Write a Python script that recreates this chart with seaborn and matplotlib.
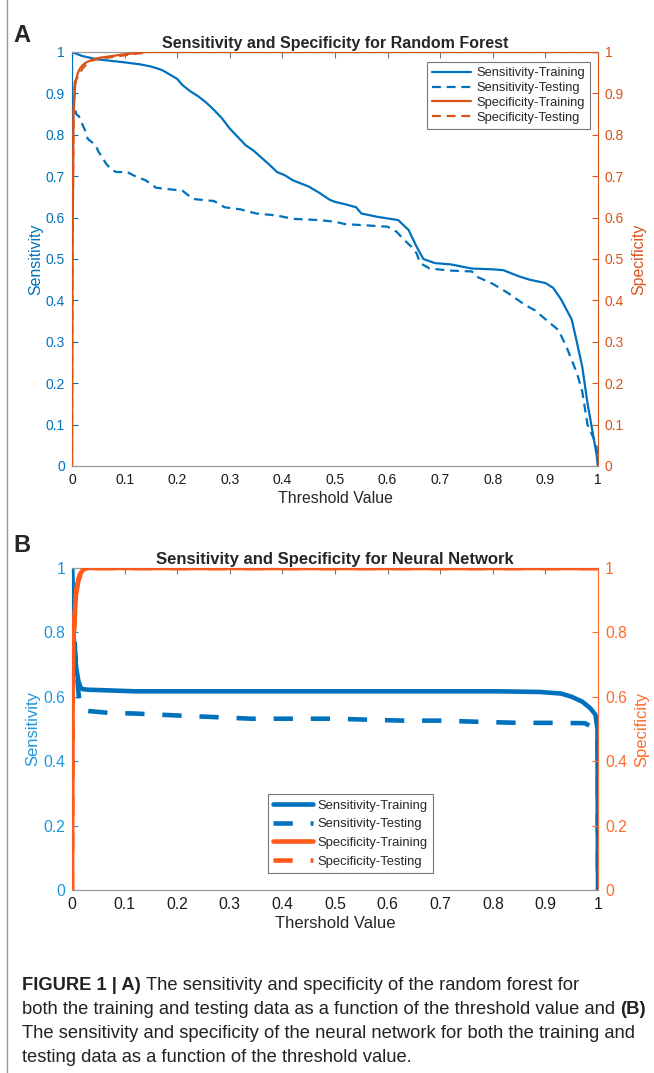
import numpy as np
import pandas as pd
import matplotlib
matplotlib.use('Agg')
import matplotlib.pyplot as plt
import seaborn as sns
from matplotlib.lines import Line2D

# ---- data ----
# Panel A : random forest
rf_sens_train_t = [0, 0.02, 0.05, 0.1, 0.13, 0.15, 0.17, 0.18, 0.2, 0.21, 0.225, 0.24, 0.255, 0.27, 0.285,
                   0.3, 0.315, 0.33, 0.345, 0.36, 0.375, 0.39, 0.405, 0.42, 0.45, 0.47, 0.49, 0.5, 0.52,
                   0.54, 0.55, 0.58, 0.6, 0.62, 0.64, 0.655, 0.668, 0.69, 0.72, 0.76, 0.8, 0.82, 0.85,
                   0.87, 0.9, 0.915, 0.93, 0.95, 0.96, 0.97, 0.98, 0.99, 0.997, 1.0]
rf_sens_train = [1.0, 0.99, 0.982, 0.975, 0.97, 0.965, 0.957, 0.95, 0.935, 0.92, 0.905, 0.893, 0.878,
                 0.86, 0.84, 0.815, 0.795, 0.775, 0.762, 0.745, 0.728, 0.71, 0.702, 0.69, 0.675, 0.66,
                 0.643, 0.638, 0.632, 0.625, 0.61, 0.602, 0.598, 0.594, 0.57, 0.53, 0.50, 0.49, 0.487,
                 0.477, 0.475, 0.473, 0.458, 0.45, 0.442, 0.43, 0.402, 0.354, 0.298, 0.24, 0.152,
                 0.08, 0.03, 0.0]

rf_sens_test_t = [0, 0, 0.003, 0.008, 0.013, 0.025, 0.03, 0.045, 0.05, 0.065, 0.075, 0.085, 0.105, 0.12,
                  0.14, 0.16, 0.21, 0.23, 0.27, 0.29, 0.32, 0.35, 0.39, 0.42, 0.47, 0.5, 0.52, 0.55, 0.6,
                  0.617, 0.63, 0.645, 0.655, 0.662, 0.68, 0.72, 0.76, 0.77, 0.8, 0.83, 0.86, 0.88, 0.91,
                  0.925, 0.94, 0.96, 0.97, 0.98, 0.99, 0.997, 1.0]
rf_sens_test = [1.0, 0.93, 0.88, 0.85, 0.845, 0.81, 0.79, 0.775, 0.76, 0.73, 0.715, 0.71, 0.71, 0.70,
                0.69, 0.672, 0.665, 0.645, 0.64, 0.625, 0.62, 0.61, 0.605, 0.597, 0.594, 0.59, 0.584,
                0.582, 0.578, 0.566, 0.548, 0.53, 0.514, 0.49, 0.477, 0.472, 0.47, 0.457, 0.44, 0.417,
                0.39, 0.376, 0.344, 0.328, 0.288, 0.224, 0.18, 0.1, 0.072, 0.05, 0.0]

rf_spec_train_t = [0, 0.001, 0.003, 0.006, 0.01, 0.014, 0.02, 0.027, 0.04, 0.052, 0.075, 0.096, 0.12, 0.14, 1.0]
rf_spec_train = [0, 0.5, 0.85, 0.92, 0.945, 0.958, 0.968, 0.975, 0.982, 0.986, 0.99, 0.994, 0.997, 1.0, 1.0]

rf_spec_test_t = [0, 0.001, 0.003, 0.006, 0.011, 0.02, 0.033, 0.05, 0.065, 0.09, 0.11, 0.13, 0.15, 1.0]
rf_spec_test = [0, 0.5, 0.86, 0.93, 0.94, 0.96, 0.978, 0.983, 0.986, 0.99, 0.994, 0.997, 1.0, 1.0]

# Panel B : neural network
nn_sens_train_t = [0, 0.002, 0.005, 0.008, 0.012, 0.016, 0.02, 0.03, 0.05, 0.12, 0.4, 0.81, 0.89, 0.93,
                   0.95, 0.97, 0.985, 0.995, 0.999, 1.0]
nn_sens_train = [1.0, 0.82, 0.74, 0.69, 0.65, 0.63, 0.624, 0.622, 0.621, 0.617, 0.617, 0.617, 0.615, 0.61,
                 0.60, 0.585, 0.565, 0.545, 0.50, 0.0]

nn_sens_test_t = [0, 0.003, 0.006, 0.01, 0.013, 0.016, 0.02, 0.03, 0.05, 0.07, 0.12, 0.2, 0.27, 0.34, 0.5,
                  0.56, 0.63, 0.7, 0.78, 0.85, 0.92, 0.975, 0.99, 0.997, 0.9995, 1.0]
nn_sens_test = [1.0, 0.85, 0.74, 0.66, 0.6, 0.57, 0.56, 0.556, 0.553, 0.55, 0.548, 0.542, 0.537, 0.532,
                0.532, 0.529, 0.526, 0.526, 0.522, 0.519, 0.519, 0.518, 0.505, 0.488, 0.48, 0.0]

nn_spec_train_t = [0, 0.001, 0.002, 0.005, 0.008, 0.012, 0.015, 0.021, 0.03, 1.0]
nn_spec_train = [0, 0.55, 0.75, 0.85, 0.93, 0.965, 0.98, 0.995, 1.0, 1.0]

nn_spec_test_t = [0, 0.001, 0.002, 0.005, 0.008, 0.012, 0.016, 0.022, 0.031, 1.0]
nn_spec_test = [0, 0.55, 0.74, 0.84, 0.92, 0.96, 0.978, 0.994, 1.0, 1.0]

legend_labels = ['Sensitivity-Training', 'Sensitivity-Testing', 'Specificity-Training', 'Specificity-Testing']
x_ticks = [0, 0.1, 0.2, 0.3, 0.4, 0.5, 0.6, 0.7, 0.8, 0.9, 1]
x_ticklabels = ['0', '0.1', '0.2', '0.3', '0.4', '0.5', '0.6', '0.7', '0.8', '0.9', '1']
a_yticks = [0, 0.1, 0.2, 0.3, 0.4, 0.5, 0.6, 0.7, 0.8, 0.9, 1]
a_yticklabels = ['0', '0.1', '0.2', '0.3', '0.4', '0.5', '0.6', '0.7', '0.8', '0.9', '1']
b_yticks = [0, 0.2, 0.4, 0.6, 0.8, 1]
b_yticklabels = ['0', '0.2', '0.4', '0.6', '0.8', '1']

sns.set_style('white')
plt.rcParams['font.family'] = ['Liberation Sans', 'DejaVu Sans']

W, H = 654, 1073
fig = plt.figure(figsize=(W / 100, H / 100), dpi=100)


def rect(x0, y0, x1, y1):
    return [x0 / W, 1 - y1 / H, (x1 - x0) / W, (y1 - y0) / H]


def panel(r, curves, title, xlabel, yticks, yticklabels, cl, cr, fs, tfs, lfs, leg_fs, leg_anchor,
          leg_loc, lspace):
    ax = fig.add_axes(r)
    ax2 = ax.twinx()
    handles = []
    for t, v, side, color, ls, lw, dash, z in curves:
        a = ax if side == 'L' else ax2
        df = pd.DataFrame({'t': t, 'v': v})
        sns.lineplot(data=df, x='t', y='v', ax=a, color=color, lw=lw, estimator=None,
                     sort=False, legend=False, zorder=z)
        ln = a.get_lines()[-1]
        if ls == '--':
            ln.set_dashes(dash)
        handles.append(ln)
    for a in (ax, ax2):
        a.set_xlim(0, 1)
        a.set_ylim(0, 1)
        a.set_xlabel('')
        a.set_ylabel('')
        for s in ('top', 'bottom'):
            a.spines[s].set_color('#9a9a9a')
            a.spines[s].set_linewidth(0.8)
    ax.spines['left'].set_color(cl)
    ax.spines['right'].set_visible(False)
    ax2.spines['right'].set_color(cr)
    ax2.spines['left'].set_visible(False)
    ax.set_xticks(x_ticks)
    ax.set_xticklabels(x_ticklabels)
    ax.tick_params(axis='x', direction='in', top=True, length=4, color='#777', labelsize=fs, pad=5,
                   labelcolor='#1a1a1a')
    ax.set_yticks(yticks)
    ax.set_yticklabels(yticklabels)
    ax.tick_params(axis='y', direction='in', left=True, right=False, length=4, color=cl,
                   labelsize=fs, labelcolor=cl, pad=5)
    ax2.set_yticks(yticks)
    ax2.set_yticklabels(yticklabels)
    ax2.tick_params(axis='y', direction='in', right=True, left=False, length=4, color=cr,
                    labelsize=fs, labelcolor=cr, pad=5)
    ax.set_title(title, fontsize=tfs, fontweight='bold', pad=3)
    ax.set_xlabel(xlabel, fontsize=lfs, labelpad=3)
    ax.set_ylabel('Sensitivity', fontsize=lfs, color=cl, labelpad=2)
    ax2.set_ylabel('Specificity', fontsize=lfs, color=cr, labelpad=5)
    ax.patch.set_visible(False)
    leg = ax2.legend(handles, legend_labels, loc=leg_loc, bbox_to_anchor=leg_anchor,
                     borderaxespad=0, fontsize=leg_fs, frameon=True, fancybox=False,
                     framealpha=1, edgecolor='#777', handlelength=3.0, handletextpad=0.4,
                     labelspacing=lspace, borderpad=0.4)
    leg.get_frame().set_linewidth(0.8)
    return ax, ax2


blue_a, orange_a = '#0072BD', '#D95319'
curves_a = [
    (rf_sens_train_t, rf_sens_train, 'L', blue_a, '-', 1.6, None, 3),
    (rf_sens_test_t, rf_sens_test, 'L', blue_a, '--', 1.6, (4, 2.6), 2),
    (rf_spec_train_t, rf_spec_train, 'R', orange_a, '-', 1.6, None, 3),
    (rf_spec_test_t, rf_spec_test, 'R', orange_a, '--', 1.6, (4, 2.6), 2),
]
panel(rect(72, 52, 598, 466), curves_a, 'Sensitivity and Specificity for Random Forest',
      'Threshold Value', a_yticks, a_yticklabels, '#0072BD', '#D95319', 10, 11.5, 11.4, 9.3,
      (0.985, 0.976), 'upper right', 0.22)

blue_b, orange_b = '#0072BD', '#FF5A1A'
curves_b = [
    (nn_sens_train_t, nn_sens_train, 'L', blue_b, '-', 3.3, None, 3),
    (nn_sens_test_t, nn_sens_test, 'L', blue_b, '--', 3.3, (4.2, 3.9), 2),
    (nn_spec_train_t, nn_spec_train, 'R', orange_b, '-', 3.3, None, 3),
    (nn_spec_test_t, nn_spec_test, 'R', orange_b, '--', 3.3, (4.2, 3.9), 2),
]
panel(rect(72, 568, 598, 890), curves_b, 'Sensitivity and Specificity for Neural Network',
      'Thershold Value', b_yticks, b_yticklabels, '#1E96DC', '#FF6A2A', 11.3, 12, 12, 9.4,
      (0.373, 0.053), 'lower left', 0.5)

# panel letters
fig.text(13 / W, 1 - 36 / H, 'A', fontsize=17, fontweight='bold', va='center')
fig.text(13 / W, 1 - 546 / H, 'B', fontsize=17, fontweight='bold', va='center')

# left border
fig.add_artist(Line2D([7 / W, 7 / W], [0, 1], color='#9a9a9a', lw=1))

# caption with mixed weights
renderer = fig.canvas.get_renderer()
cap_size = 13.2
space_px = cap_size * 100 / 72 * 0.278


def caption_line(y, parts, x=22):
    for s, bold in parts:
        t = fig.text(x / W, 1 - y / H, s, fontsize=cap_size, va='center', ha='left',
                     fontweight='bold' if bold else 'normal', color='#222222')
        x += t.get_window_extent(renderer).width + space_px


caption_line(985, [('FIGURE 1 | A)', True),
                   ('The sensitivity and specificity of the random forest for', False)])
caption_line(1010, [('both the training and testing data as a function of the threshold value and', False),
                    ('(B)', True)])
caption_line(1034, [('The sensitivity and specificity of the neural network for both the training and', False)])
caption_line(1058, [('testing data as a function of the threshold value.', False)])

fig.savefig('out.png', dpi=100)
